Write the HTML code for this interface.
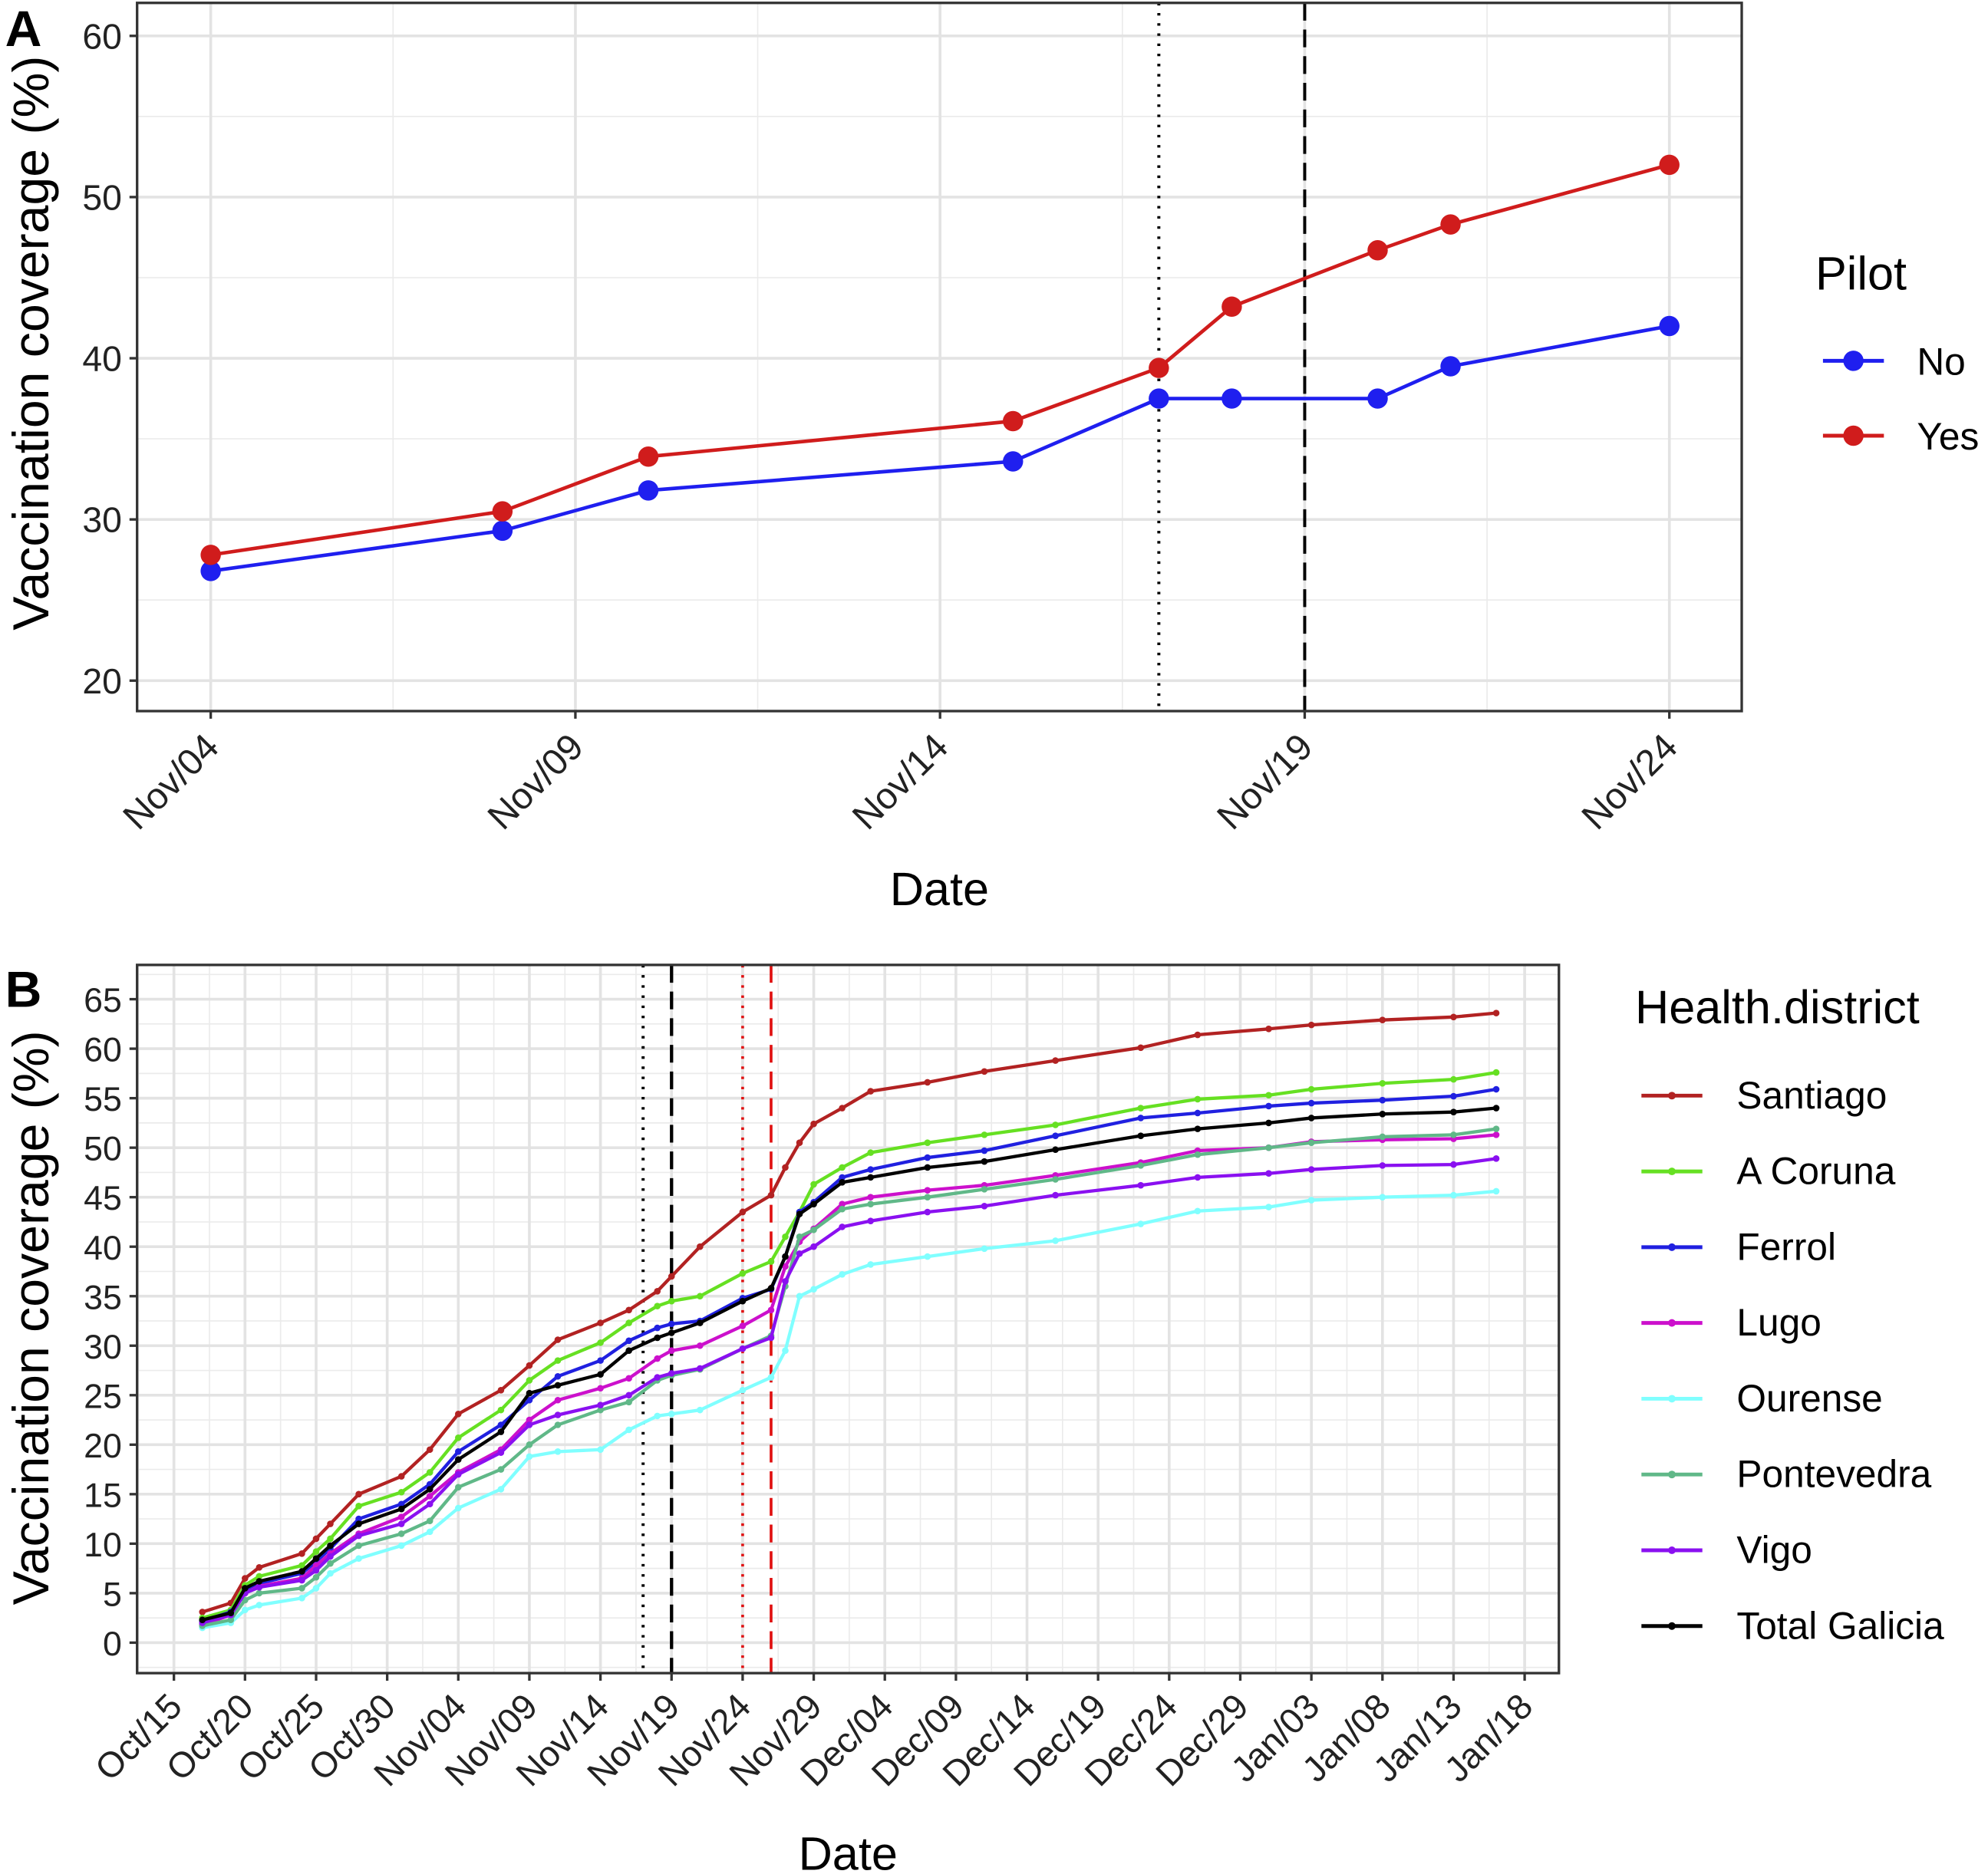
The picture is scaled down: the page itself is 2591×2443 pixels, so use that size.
<!DOCTYPE html>
<html><head><meta charset="utf-8"><style>
html,body{margin:0;padding:0;background:#fff}
svg{display:block;font-family:"Liberation Sans",Arial,sans-serif}
</style></head><body>
<svg id="fig" width="2591" height="2443" viewBox="0 0 1566 1476" xmlns="http://www.w3.org/2000/svg">
<rect width="1566" height="1476" fill="#fff"/>
<g id="pa"></g>
<g id="pb"></g>
</svg>
<script>
// ---------- Panel A data ----------
const aDays = [0,4,6,11,13,14,16,17,20]; // days since Nov/04
const aNo = [26.8,29.3,31.8,33.6,37.5,37.5,37.5,39.5,42.0];
const aYes = [27.8,30.5,33.9,36.1,39.4,43.2,46.7,48.3,52.0];
const aTickLabels = ["Nov/04","Nov/09","Nov/14","Nov/19","Nov/24"];
const aYTicks = [20,30,40,50,60];
const aVLines = [13,15];

// ---------- Panel B data ----------
const bDays = [2,4,5,6,9,10,11,13,16,18,20,23,25,27,30,32,34,35,37,40,42,43,44,45,47,49,53,57,62,68,72,77,80,85,90,93]; // days since Oct/15
const bNames = ["Santiago","A Coruna","Ferrol","Lugo","Ourense","Pontevedra","Vigo","Total Galicia"];
const santiago = [3.1,4.0,6.5,7.6,9.0,10.5,12,15,16.8,19.5,23.1,25.5,28,30.6,32.3,33.6,35.5,37,40,43.5,45.2,48,50.5,52.4,54,55.7,56.6,57.7,58.8,60.1,61.4,62.0,62.4,62.9,63.2,63.6];
const aCoruna = [2.5,3.3,5.8,6.7,7.8,9.2,10.5,13.8,15.2,17.2,20.7,23.5,26.5,28.5,30.3,32.3,34.0,34.5,35.0,37.3,38.5,41,43.5,46.3,48,49.5,50.5,51.3,52.3,54,54.9,55.3,55.9,56.5,56.9,57.6];
const ferrol = [2.2,3.1,5.2,6.0,7.0,8.2,9.5,12.5,14.0,16,19.3,22,24.5,26.9,28.5,30.5,31.8,32.2,32.5,34.8,35.7,39,43.5,44.5,47.0,47.8,49.0,49.7,51.2,53,53.5,54.2,54.5,54.8,55.2,55.9];
const lugo = [1.8,2.8,5.0,5.7,6.5,7.8,9.0,11.0,12.7,14.8,17.2,19.5,22.5,24.5,25.7,26.7,28.7,29.5,30.0,32,33.6,38,40.5,41.8,44.3,45,45.7,46.2,47.2,48.5,49.7,50,50.6,50.8,50.9,51.3];
const ourense = [1.5,2.0,3.3,3.8,4.5,5.5,7.0,8.5,9.8,11.2,13.6,15.5,18.8,19.3,19.5,21.5,22.9,23.1,23.5,25.5,26.8,29.5,35,35.7,37.2,38.2,39.0,39.8,40.6,42.3,43.6,44.0,44.7,45.0,45.2,45.6];
const pontevedra = [1.7,2.3,4.3,5,5.5,6.6,8.0,9.8,11.0,12.3,15.7,17.5,20.0,22.0,23.5,24.3,26.5,27.0,27.6,29.7,31.0,36,41,41.7,43.8,44.3,45.0,45.8,46.8,48.2,49.3,50.0,50.5,51.1,51.3,51.9];
const vigo = [2.0,2.8,5.0,5.6,6.3,7.3,8.7,10.8,12.0,14,17.0,19.2,22.0,23.0,24.0,25.0,26.8,27.2,27.7,29.7,30.8,36.5,39.3,40.0,42.0,42.6,43.5,44.1,45.2,46.2,47.0,47.4,47.8,48.2,48.3,48.9];
const totalGalicia = [2.3,3,5.5,6.2,7.2,8.5,9.8,12.0,13.5,15.5,18.5,21.3,25.2,26.0,27.1,29.5,30.8,31.3,32.3,34.5,35.8,39,43.3,44.3,46.5,47.0,48.0,48.6,49.8,51.2,51.9,52.5,53.0,53.4,53.6,54.0];
const bTickLabels = ["Oct/15","Oct/20","Oct/25","Oct/30","Nov/04","Nov/09","Nov/14","Nov/19","Nov/24","Nov/29","Dec/04","Dec/09","Dec/14","Dec/19","Dec/24","Dec/29","Jan/03","Jan/08","Jan/13","Jan/18"];
const bYTicks = [0,5,10,15,20,25,30,35,40,45,50,55,60,65];

const NS="http://www.w3.org/2000/svg";
function mk(tag,attrs,parent,text){const e=document.createElementNS(NS,tag);for(const k in attrs)e.setAttribute(k,attrs[k]);if(text!==undefined)e.textContent=text;parent.appendChild(e);return e;}

// ================= PANEL A =================
(function(){
const g=document.getElementById('pa');
const L=108,R=1372,T=2,B=560;
const xA=d=>166+d*57.45;
const yA=v=>536-(v-20)*12.7;
mk('rect',{x:L,y:T,width:R-L,height:B-T,fill:'#fff'},g);
for(let v=25;v<=55;v+=10){mk('line',{x1:L,x2:R,y1:yA(v),y2:yA(v),stroke:'#ebebeb','stroke-width':1},g);}
for(let d=-2.5;d<=22.5;d+=5){const x=xA(d);if(x>L&&x<R)mk('line',{x1:x,x2:x,y1:T,y2:B,stroke:'#ebebeb','stroke-width':1},g);}
aYTicks.forEach(v=>{const l=mk('line',{x1:L,x2:R,y1:yA(v),y2:yA(v),stroke:'#e3e3e3','stroke-width':2.2},g);

});
aTickLabels.forEach((t,i)=>{mk('line',{x1:xA(i*5),x2:xA(i*5),y1:T,y2:B,stroke:'#e3e3e3','stroke-width':2.2},g);});
mk('line',{x1:xA(aVLines[0]),x2:xA(aVLines[0]),y1:T,y2:B,stroke:'#000','stroke-width':2.4,'stroke-dasharray':'2 6'},g);
mk('line',{x1:xA(aVLines[1]),x2:xA(aVLines[1]),y1:T,y2:B,stroke:'#000','stroke-width':2.4,'stroke-dasharray':'14 7'},g);
[[aNo,'#1f1fef','series-no'],[aYes,'#d01c1c','series-yes']].forEach(([vals,col,nm])=>{
 const sg=mk('g',{},g);
 
 
 mk('polyline',{points:vals.map((v,i)=>xA(aDays[i])+','+yA(v)).join(' '),fill:'none',stroke:col,'stroke-width':2.8},sg);
 vals.forEach((v,i)=>{const c=mk('circle',{cx:xA(aDays[i]),cy:yA(v),r:8,fill:col},sg);
 
 });
});
mk('rect',{x:L,y:T,width:R-L,height:B-T,fill:'none',stroke:'#333','stroke-width':2},g);
aYTicks.forEach(v=>{mk('line',{x1:L-6,x2:L,y1:yA(v),y2:yA(v),stroke:'#333','stroke-width':2},g);
 const t=mk('text',{x:L-12,y:yA(v)+10,'text-anchor':'end','font-size':28,fill:'#222'},g,String(v));
 
 });
aTickLabels.forEach((s,i)=>{const x=xA(i*5);mk('line',{x1:x,x2:x,y1:B,y2:B+6,stroke:'#333','stroke-width':2},g);
 const t=mk('text',{x:x+8,y:B+30,'text-anchor':'end','font-size':29,fill:'#222',transform:`rotate(-45 ${x+8} ${B+30})`},g,s);
 
 });
const xt=mk('text',{x:740,y:713,'text-anchor':'middle','font-size':37,fill:'#000'},g,'Date');

const yt=mk('text',{x:38,y:270,'text-anchor':'middle','font-size':40,fill:'#000',transform:'rotate(-90 38 270)'},g,'Vaccination coverage (%)');

const lab=mk('text',{x:4,y:36,'font-size':40,'font-weight':'bold',fill:'#000'},g,'A');

const lt=mk('text',{x:1430,y:228,'font-size':37,fill:'#000'},g,'Pilot');

[['No','#1f1fef',284],['Yes','#d01c1c',343]].forEach(([n,c,y])=>{const eg=mk('g',{},g);
 
 
 mk('line',{x1:1436,x2:1484,y1:y,y2:y,stroke:c,'stroke-width':3},eg);
 mk('circle',{cx:1460,cy:y,r:8,fill:c},eg);
 mk('text',{x:1510,y:y+11,'font-size':30,fill:'#000'},eg,n);});
})();

// ================= PANEL B =================
(function(){
const g=document.getElementById('pb');
const L=108,R=1228,T=760,B=1318;
const xB=d=>137+d*11.2;
const yB=v=>1294-v*7.8;
mk('rect',{x:L,y:T,width:R-L,height:B-T,fill:'#fff'},g);
for(let v=-2.5;v<=67.5;v+=5){const y=yB(v);if(y>T&&y<B)mk('line',{x1:L,x2:R,y1:y,y2:y,stroke:'#ebebeb','stroke-width':1},g);}
for(let d=-2.5;d<=97.5;d+=5){const x=xB(d);if(x>L&&x<R)mk('line',{x1:x,x2:x,y1:T,y2:B,stroke:'#ebebeb','stroke-width':1},g);}
bYTicks.forEach(v=>{mk('line',{x1:L,x2:R,y1:yB(v),y2:yB(v),stroke:'#e3e3e3','stroke-width':2.2},g);});
bTickLabels.forEach((s,i)=>{mk('line',{x1:xB(i*5),x2:xB(i*5),y1:T,y2:B,stroke:'#e3e3e3','stroke-width':2.2},g);});
mk('line',{x1:xB(33),x2:xB(33),y1:T,y2:B,stroke:'#000','stroke-width':2.4,'stroke-dasharray':'2 6'},g);
mk('line',{x1:xB(35),x2:xB(35),y1:T,y2:B,stroke:'#000','stroke-width':2.6,'stroke-dasharray':'14 7'},g);
mk('line',{x1:xB(40),x2:xB(40),y1:T,y2:B,stroke:'#e01010','stroke-width':2.2,'stroke-dasharray':'2 6'},g);
mk('line',{x1:xB(42),x2:xB(42),y1:T,y2:B,stroke:'#e01010','stroke-width':2.2,'stroke-dasharray':'14 7'},g);
const series=[santiago,aCoruna,ferrol,lugo,ourense,pontevedra,vigo,totalGalicia];
const cols=['#b22222','#66e022','#2020e0','#cc10cc','#80ffff','#60b888','#8a10f0','#000000'];
series.forEach((vals,si)=>{const sg=mk('g',{},g);
 
 
 mk('polyline',{points:vals.map((v,i)=>xB(bDays[i])+','+yB(v)).join(' '),fill:'none',stroke:cols[si],'stroke-width':2.6},sg);
 vals.forEach((v,i)=>{const c=mk('circle',{cx:xB(bDays[i]),cy:yB(v),r:2.6,fill:cols[si]},sg);
 
 });
});
mk('rect',{x:L,y:T,width:R-L,height:B-T,fill:'none',stroke:'#333','stroke-width':2},g);
bYTicks.forEach(v=>{mk('line',{x1:L-6,x2:L,y1:yB(v),y2:yB(v),stroke:'#333','stroke-width':2},g);
 const t=mk('text',{x:L-12,y:yB(v)+10,'text-anchor':'end','font-size':27,fill:'#222'},g,String(v));
 
 });
bTickLabels.forEach((s,i)=>{const x=xB(i*5);mk('line',{x1:x,x2:x,y1:B,y2:B+6,stroke:'#333','stroke-width':2},g);
 const t=mk('text',{x:x+8,y:B+28,'text-anchor':'end','font-size':28,fill:'#222',transform:`rotate(-45 ${x+8} ${B+28})`},g,s);
 
 });
const xt=mk('text',{x:668,y:1473,'text-anchor':'middle','font-size':37,fill:'#000'},g,'Date');

const yt=mk('text',{x:38,y:1038,'text-anchor':'middle','font-size':40,fill:'#000',transform:'rotate(-90 38 1038)'},g,'Vaccination coverage (%)');

const lab=mk('text',{x:4,y:793,'font-size':40,'font-weight':'bold',fill:'#000'},g,'B');

const lt=mk('text',{x:1288,y:806,'font-size':37,fill:'#000'},g,'Health.district');

bNames.forEach((n,i)=>{const y=863+i*59.7;const eg=mk('g',{},g);
 
 
 mk('line',{x1:1293,x2:1341,y1:y,y2:y,stroke:cols[i],'stroke-width':3},eg);
 mk('circle',{cx:1317,cy:y,r:3,fill:cols[i]},eg);
 mk('text',{x:1368,y:y+10,'font-size':30,fill:'#000'},eg,n);});
})();
</script>
</body></html>
